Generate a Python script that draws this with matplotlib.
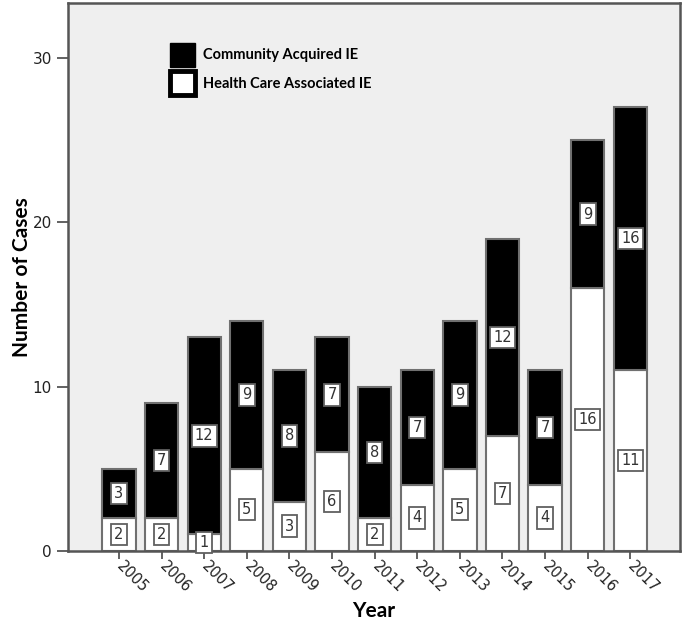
import matplotlib
matplotlib.use("Agg")
import matplotlib.pyplot as plt
from matplotlib.patches import Patch
import numpy as np

# data
years = ["2005", "2006", "2007", "2008", "2009", "2010", "2011",
         "2012", "2013", "2014", "2015", "2016", "2017"]
health_care = [2, 2, 1, 5, 3, 6, 2, 4, 5, 7, 4, 16, 11]
community = [3, 7, 12, 9, 8, 7, 8, 7, 9, 12, 7, 9, 16]

fig = plt.figure(figsize=(6.85, 6.21), dpi=100)
ax = fig.add_axes([0.099, 0.113, 0.894, 0.882])
ax.set_facecolor("#efefef")

x = np.arange(len(years))
w = 0.78
hc = ax.bar(x, health_care, width=w, color="white", edgecolor="#707070", linewidth=1.5)
ca = ax.bar(x, community, width=w, bottom=health_care, color="black",
            edgecolor="#707070", linewidth=1.5)

box = dict(boxstyle="square,pad=0.22", facecolor="white", edgecolor="#606060", linewidth=1.3)
for xi, h, c in zip(x, health_care, community):
    ax.text(xi, h / 2, str(h), ha="center", va="center", fontsize=10.5,
            color="#333333", bbox=box, family="DejaVu Sans")
    ax.text(xi, h + c / 2, str(c), ha="center", va="center", fontsize=10.5,
            color="#333333", bbox=box, family="DejaVu Sans")

ax.set_xlim(-1.2, len(years) - 1 + 1.17)
ax.set_ylim(0, 33.35)
ax.set_yticks([0, 10, 20, 30])
ax.set_xticks(x)
ax.set_xticklabels(years, rotation=-45, ha="left", va="center", rotation_mode="anchor")
ax.tick_params(axis="y", length=8, width=1.3, color="#555555", labelsize=11, labelcolor="#222222")
ax.tick_params(axis="x", length=6, width=1.3, color="#555555", labelsize=10.5,
               labelcolor="#222222", pad=3)

for s in ax.spines.values():
    s.set_color("#555555")
    s.set_linewidth(1.8)

ax.set_xlabel("Year", fontsize=15, fontweight="bold", family="Lato", labelpad=4)
ax.set_ylabel("Number of Cases", fontsize=15, fontweight="bold", family="Lato", labelpad=0)

handles = [Patch(facecolor="black", edgecolor="black", linewidth=1),
           Patch(facecolor="white", edgecolor="black", linewidth=3.5)]
ax.legend(handles, ["Community Acquired IE", "Health Care Associated IE"],
          loc="upper left", bbox_to_anchor=(0.146, 0.952), frameon=False,
          handlelength=1.71, handleheight=2.16, handletextpad=0.55, labelspacing=0.3,
          prop={"family": "Lato", "weight": "bold", "size": 10.5})

plt.savefig("out.png", dpi=100)
plt.close()
